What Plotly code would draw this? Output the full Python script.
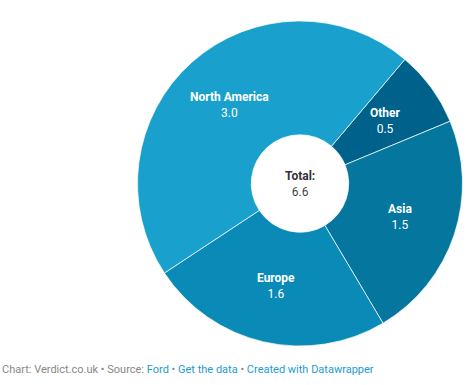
import math
import plotly.graph_objects as go

regions = ["Other", "Asia", "Europe", "North America"]
values = [0.5, 1.5, 1.6, 3.0]
colors = ["#00628a", "#05769e", "#0a8ab6", "#1aa0cc"]
total = sum(values)

W, H = 475, 385
CX, CY, R = 300.0, 183.5, 162.5   # pie centre / radius in pixels
HOLE = 0.30
START = 40.2                      # degrees clockwise from 12 o'clock

fig = go.Figure()
fig.add_trace(go.Pie(
    labels=regions,
    values=values,
    sort=False,
    direction="clockwise",
    rotation=START,
    hole=HOLE,
    marker=dict(colors=colors, line=dict(color="rgba(255,255,255,0.7)", width=1)),
    textinfo="none",
    showlegend=False,
    hoverinfo="label+value",
    domain=dict(x=[(CX - R) / W, (CX + R) / W], y=[1 - (CY + R) / H, 1 - (CY - R) / H]),
))

# slice labels at the middle of each ring segment
r_mid = R * (1 + HOLE) / 2
acc = 0.0
for name, v in zip(regions, values):
    mid = START + 360.0 * (acc + v / 2) / total
    acc += v
    a = math.radians(mid)
    px = CX + r_mid * math.sin(a)
    py = CY - r_mid * math.cos(a)
    fig.add_annotation(
        x=px / W, y=1 - py / H, xref="paper", yref="paper",
        xanchor="center", yanchor="middle",
        text=f"<b>{name}</b><br>{v:.1f}", showarrow=False,
        font=dict(family="Roboto", size=12, color="white"), align="center",
    )

fig.add_annotation(
    x=CX / W, y=1 - CY / H, xref="paper", yref="paper",
    xanchor="center", yanchor="middle",
    text=f"<span style='color:#333333'><b>Total:</b></span><br><span style='color:#444444'>{total:.1f}</span>",
    showarrow=False,
    font=dict(family="Roboto", size=12, color="#333333"), align="center",
)

fig.add_annotation(
    x=0, y=1 - 369 / H, xref="paper", yref="paper", xanchor="left", yanchor="middle",
    text=("<span style='color:#888888'>Chart: Verdict.co.uk • Source: </span>"
          "<span style='color:#1d9bd1'>Ford</span>"
          "<span style='color:#888888'> • </span>"
          "<span style='color:#1d9bd1'>Get the data</span>"
          "<span style='color:#888888'> • </span>"
          "<span style='color:#1d9bd1'>Created with Datawrapper</span>"),
    showarrow=False, font=dict(family="Roboto", size=11, color="#888888"),
)

fig.update_layout(
    width=W, height=H,
    margin=dict(l=0, r=0, t=0, b=0),
    paper_bgcolor="white", plot_bgcolor="white",
)

fig.write_html(
    "out.html",
    config={"displayModeBar": False},
    post_script="document.body.style.margin='0';document.body.style.overflow='hidden';",
)
